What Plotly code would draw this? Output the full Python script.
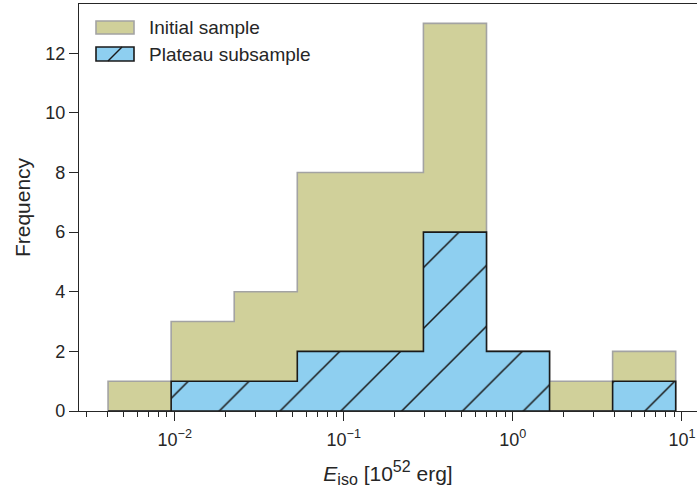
import plotly.graph_objects as go

# Logarithmic bin edges of E_iso [10^52 erg]
bin_edges = [0.004036, 0.009528, 0.02249, 0.05309, 0.1253, 0.2958,
             0.6982, 1.648, 3.890, 9.183]
# Counts per bin
initial_counts = [1, 3, 4, 8, 8, 13, 2, 1, 2]
plateau_counts = [0, 1, 1, 2, 2, 6, 2, 0, 1]

x_tickvals = [0.01, 0.1, 1, 10]
x_ticktext = ["10<sup>−2</sup>", "10<sup>−1</sup>", "10<sup>0</sup>", "10<sup>1</sup>"]
y_tickvals = [0, 2, 4, 6, 8, 10, 12]

OLIVE = "#d0d09a"
OLIVE_EDGE = "#a3a3a3"
BLUE = "#8ecff0"
DARK = "#1a1a1a"
AXIS = "#262626"
FONT = "Liberation Sans, Arial, Helvetica, sans-serif"


def step_outline(edges, counts):
    """Closed step polygon of a histogram (stepfilled style)."""
    xs, ys = [edges[0]], [0]
    for i, c in enumerate(counts):
        xs += [edges[i], edges[i + 1]]
        ys += [c, c]
    xs += [edges[-1], edges[0]]
    ys += [0, 0]
    return xs, ys


fig = go.Figure()

xi, yi = step_outline(bin_edges, initial_counts)
fig.add_trace(go.Scatter(
    x=xi, y=yi, mode="lines", fill="toself", fillcolor=OLIVE,
    line=dict(color=OLIVE_EDGE, width=1.6), name="Initial sample",
    showlegend=False, hoverinfo="skip",
))

xp, yp = step_outline(bin_edges, plateau_counts)
fig.add_trace(go.Scatter(
    x=xp, y=yp, mode="lines", fill="toself", fillcolor=BLUE,
    fillpattern=dict(shape="/", fgcolor=DARK, bgcolor=BLUE, size=43,
                     solidity=0.036, fillmode="replace"),
    line=dict(color=DARK, width=1.6), name="Plateau subsample",
    showlegend=False, hoverinfo="skip",
))

# Plot-area geometry (pixels) used to place the hand-drawn legend
W, H = 697, 494
ML, MR, MT, MB = 79, 0, 4, 83
PW, PH = W - ML - MR, H - MT - MB


def px(xp_):
    return (xp_ - ML) / PW


def py(yp_):
    return (H - MB - yp_) / PH


shapes = [
    dict(type="rect", xref="paper", yref="paper",
         x0=px(96), x1=px(134), y0=py(34), y1=py(21),
         fillcolor=OLIVE, line=dict(color=OLIVE_EDGE, width=1.6)),
    dict(type="rect", xref="paper", yref="paper",
         x0=px(96), x1=px(134), y0=py(61), y1=py(47),
         fillcolor=BLUE, line=dict(color=DARK, width=1.6)),
    dict(type="line", xref="paper", yref="paper",
         x0=px(108), x1=px(122), y0=py(61), y1=py(47),
         line=dict(color=DARK, width=1.5)),
]
annotations = [
    dict(text="Initial sample", xref="paper", yref="paper",
         x=px(147), y=py(27.5), xanchor="left", yanchor="middle",
         showarrow=False, font=dict(size=19, color=AXIS, family=FONT)),
    dict(text="Plateau subsample", xref="paper", yref="paper",
         x=px(147), y=py(54), xanchor="left", yanchor="middle",
         showarrow=False, font=dict(size=19, color=AXIS, family=FONT)),
]

fig.update_layout(
    width=W, height=H,
    margin=dict(l=ML, r=MR, t=MT, b=MB, pad=0),
    paper_bgcolor="white", plot_bgcolor="white",
    font=dict(family=FONT, color=AXIS, size=18),
    shapes=shapes, annotations=annotations,
    showlegend=False,
)

x_title = ("<i>E</i><sub><span style='font-size:16px'>iso</span></sub>"
           " [10<sup><span style='font-size:16px'>52</span></sup> erg]")

fig.update_xaxes(
    type="log", range=[-2.566, 1.089],
    tickvals=x_tickvals, ticktext=x_ticktext,
    ticks="outside", ticklen=9, tickwidth=1.3, tickcolor=AXIS,
    ticklabelstandoff=3,
    minor=dict(ticks="outside", ticklen=5, tickwidth=1.1, tickcolor=AXIS,
               dtick="D1", showgrid=False),
    showline=True, linecolor=AXIS, linewidth=1.4, mirror=True,
    showgrid=False, zeroline=False,
    tickfont=dict(size=18, color=AXIS),
    title=dict(text=x_title, font=dict(size=21, color=AXIS), standoff=17),
)

fig.update_yaxes(
    range=[0, 13.65], tickvals=y_tickvals,
    ticks="outside", ticklen=9, tickwidth=1.3, tickcolor=AXIS,
    showline=True, linecolor=AXIS, linewidth=1.4, mirror=False,
    showgrid=False, zeroline=False,
    tickfont=dict(size=18, color=AXIS),
    title=dict(text="Frequency", font=dict(size=21, color=AXIS), standoff=8),
)

fig.write_html("out.html")
